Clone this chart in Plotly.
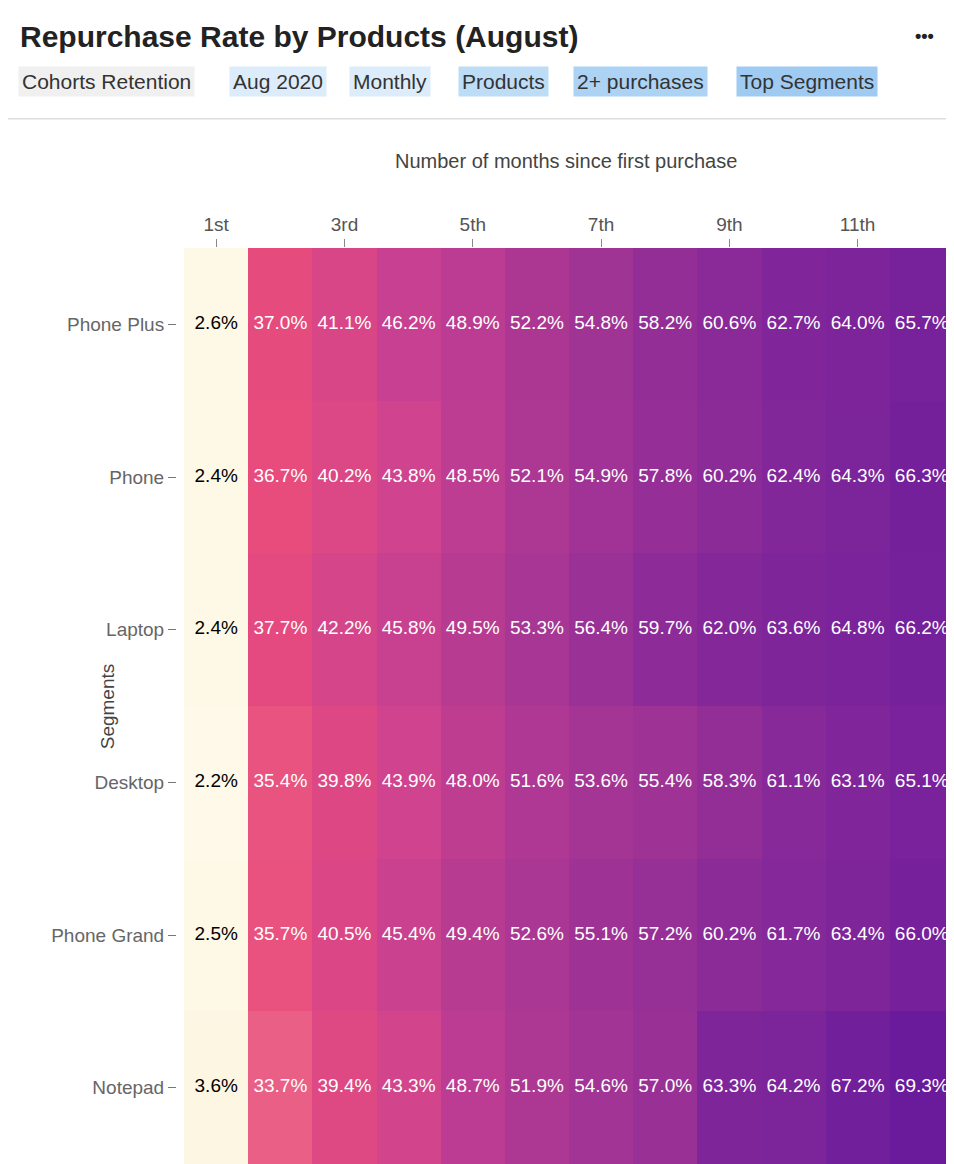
import plotly.graph_objects as go

months = ["1st","2nd","3rd","4th","5th","6th","7th","8th","9th","10th","11th","12th"]
segments = ["Phone Plus","Phone","Laptop","Desktop","Phone Grand","Notepad"]
values = [
 [2.6,37.0,41.1,46.2,48.9,52.2,54.8,58.2,60.6,62.7,64.0,65.7],
 [2.4,36.7,40.2,43.8,48.5,52.1,54.9,57.8,60.2,62.4,64.3,66.3],
 [2.4,37.7,42.2,45.8,49.5,53.3,56.4,59.7,62.0,63.6,64.8,66.2],
 [2.2,35.4,39.8,43.9,48.0,51.6,53.6,55.4,58.3,61.1,63.1,65.1],
 [2.5,35.7,40.5,45.4,49.4,52.6,55.1,57.2,60.2,61.7,63.4,66.0],
 [3.6,33.7,39.4,43.3,48.7,51.9,54.6,57.0,63.3,64.2,67.2,69.3],
]
tags = ["Cohorts Retention","Aug 2020","Monthly","Products","2+ purchases","Top Segments"]
tag_colors = ["#f0f0f0","#dcecfa","#dcecfa","#bddcf6","#acd2f4","#9fcaf2"]

cs = [[0,'#fffdf0'],[0.06,'#fdf5e0'],[0.46,'#eb6a8b'],[0.52,'#e84c7c'],
      [0.64,'#cd4290'],[0.77,'#a43594'],[0.9,'#80269a'],[1,'#681a9c']]
FONT = "Liberation Sans, Arial, sans-serif"

fig = go.Figure()
fig.add_trace(go.Heatmap(x=months, y=segments, z=values, colorscale=cs, zmin=0, zmax=70,
    showscale=False, hoverinfo="skip"))
# text labels
xs1, ys1, t1, xs2, ys2, t2 = [], [], [], [], [], []
for s, row in zip(segments, values):
    for m, v in zip(months, row):
        if m == months[0]:
            xs1.append(m); ys1.append(s); t1.append(f"{v:.1f}%")
        else:
            xs2.append(m); ys2.append(s); t2.append(f"{v:.1f}%")
fig.add_trace(go.Scatter(x=xs1, y=ys1, text=t1, mode="text", textfont=dict(color="black", size=19, family=FONT), hoverinfo="skip", showlegend=False))
fig.add_trace(go.Scatter(x=xs2, y=ys2, text=t2, mode="text", textfont=dict(color="white", size=19, family=FONT), hoverinfo="skip", showlegend=False))

L, T, W, H = 169, 240, 776, 900
fig.update_layout(
    width=954, height=1164, paper_bgcolor="white", plot_bgcolor="white",
    margin=dict(l=L, r=954-L-W-8, t=T, b=1164-T-H-16),
    font=dict(family=FONT, color="#444"), showlegend=False,
    xaxis=dict(side="top", categoryorder="array", categoryarray=months,
               tickvals=months[::2], ticks="outside", ticklen=8, tickcolor="#888",
               tickfont=dict(size=19, color="#555"), showgrid=False, zeroline=False),
    yaxis=dict(autorange="reversed", categoryorder="array", categoryarray=segments,
               ticks="outside", ticklen=8, tickcolor="#777", showgrid=False, zeroline=False,
               tickfont=dict(size=19, color="#666")),
)

def px(x): return (x - 8 - L) / W
def py(y): return 1 + (T + 8 - y) / H

fig.add_annotation(text="Number of months since first purchase", xref="paper", yref="paper",
    x=px(562), y=py(163), xanchor="center", yanchor="middle", showarrow=False,
    font=dict(size=20, color="#444", family=FONT))
fig.add_annotation(text="Segments", xref="paper", yref="paper", textangle=-90,
    x=px(108), y=py(698), xanchor="center", yanchor="middle", showarrow=False,
    font=dict(size=19, color="#444", family=FONT))
fig.add_annotation(text="<b>Repurchase Rate by Products (August)</b>", xref="paper", yref="paper",
    x=px(20), y=py(40), xanchor="left", yanchor="middle", showarrow=False,
    font=dict(size=30, color="#222", family=FONT))
fig.add_annotation(text="<b>•••</b>", xref="paper", yref="paper", x=px(917), y=py(40),
    xanchor="center", yanchor="middle", showarrow=False, font=dict(size=18, color="#222"))
tag_x = [20, 228, 347, 455, 569, 730]
for t, c, xp in zip(tags, tag_colors, tag_x):
    fig.add_annotation(text=t, xref="paper", yref="paper", x=px(xp), y=py(84),
        xanchor="left", yanchor="middle", showarrow=False, bgcolor=c, borderpad=3,
        font=dict(size=21, color="#333", family=FONT))
fig.add_shape(type="line", xref="paper", yref="paper", x0=px(0), x1=px(954),
    y0=py(121), y1=py(121), line=dict(color="#ddd", width=1.5))

fig.write_html("out.html")
